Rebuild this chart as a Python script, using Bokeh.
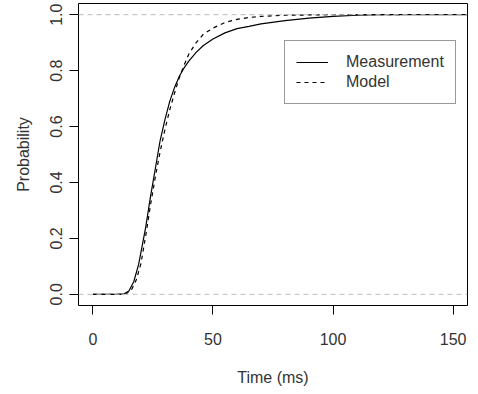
from bokeh.plotting import figure
from bokeh.models import Range1d, FixedTicker, PrintfTickFormatter, Span, Legend, LegendItem
from bokeh.embed import file_html
from bokeh.resources import INLINE

# Measured cumulative probability
meas_t = [0, 10, 13, 15, 17, 19, 20, 22, 24, 26, 28, 30, 32, 34, 36, 38, 40, 43, 46, 50, 55, 60, 65, 70, 80, 90, 100, 110, 120, 160]
meas_p = [0, 0, 0.002, 0.012, 0.045, 0.105, 0.15, 0.24, 0.35, 0.45, 0.55, 0.625, 0.69, 0.74, 0.78, 0.81, 0.835, 0.865, 0.89, 0.913, 0.935, 0.95, 0.958, 0.967, 0.979, 0.988, 0.994, 0.998, 1.0, 1.0]

# Model cumulative probability
model_t = [0, 12, 14, 16, 18, 20, 22, 24, 26, 28, 30, 32, 34, 36, 38, 40, 43, 46, 50, 55, 60, 65, 70, 80, 90, 100, 128]
model_p = [0, 0, 0.003, 0.015, 0.05, 0.11, 0.21, 0.32, 0.42, 0.51, 0.59, 0.66, 0.72, 0.775, 0.82, 0.86, 0.9, 0.93, 0.952, 0.972, 0.983, 0.99, 0.994, 0.998, 0.999, 1.0, 1.0]

x_ticks = [0, 50, 100, 150]
y_ticks = [0.0, 0.2, 0.4, 0.6, 0.8, 1.0]
ref_levels = [0.0, 1.0]

FONT = "Liberation Sans"
TXT = "#333333"

p = figure(frame_width=389, frame_height=302, output_backend="svg", toolbar_location=None,
           x_range=Range1d(-6, 156), y_range=Range1d(-0.04, 1.04),
           min_border_left=78, min_border_right=3, min_border_top=3, min_border_bottom=86)
p.background_fill_color = "white"
p.border_fill_color = "white"
p.grid.visible = False
p.outline_line_color = "black"
p.outline_line_width = 1

for ax in (p.xaxis[0], p.yaxis[0]):
    ax.axis_line_color = None
    ax.major_tick_in = 0
    ax.major_tick_out = 9
    ax.major_tick_line_color = "black"
    ax.minor_tick_line_color = None
    ax.major_label_text_font = FONT
    ax.major_label_text_font_size = "16px"
    ax.major_label_text_color = TXT
    ax.axis_label_text_font = FONT
    ax.axis_label_text_font_size = "16px"
    ax.axis_label_text_font_style = "normal"
    ax.axis_label_text_color = TXT

p.xaxis.ticker = FixedTicker(ticks=x_ticks)
p.yaxis.ticker = FixedTicker(ticks=y_ticks)
p.yaxis.formatter = PrintfTickFormatter(format="%.1f")
p.yaxis.major_label_orientation = "vertical"
p.xaxis.axis_label = "Time (ms)"
p.yaxis.axis_label = "Probability"
p.xaxis.major_label_standoff = 18
p.xaxis.axis_label_standoff = 21
p.yaxis.major_label_standoff = 7
p.yaxis.axis_label_standoff = 16

for lv in ref_levels:
    p.add_layout(Span(location=lv, dimension="width", line_color="#bbbbbb", line_dash="5 4", line_width=1))

r_meas = p.line(meas_t, meas_p, line_color="black", line_width=1.2)
r_model = p.line(model_t, model_p, line_color="black", line_width=1.2, line_dash="4 4")

legend = Legend(items=[LegendItem(label="Measurement", renderers=[r_meas]),
                       LegendItem(label="Model", renderers=[r_model])],
                location=(206, 201), margin=0, padding=11, spacing=0,
                glyph_width=32, glyph_height=20, label_height=20, label_standoff=18,
                label_text_font=FONT, label_text_font_size="16px", label_text_color=TXT,
                border_line_color="#333333", border_line_width=1,
                background_fill_color="white", background_fill_alpha=1)
p.add_layout(legend)

open("out.html", "w").write(file_html(p, INLINE))
